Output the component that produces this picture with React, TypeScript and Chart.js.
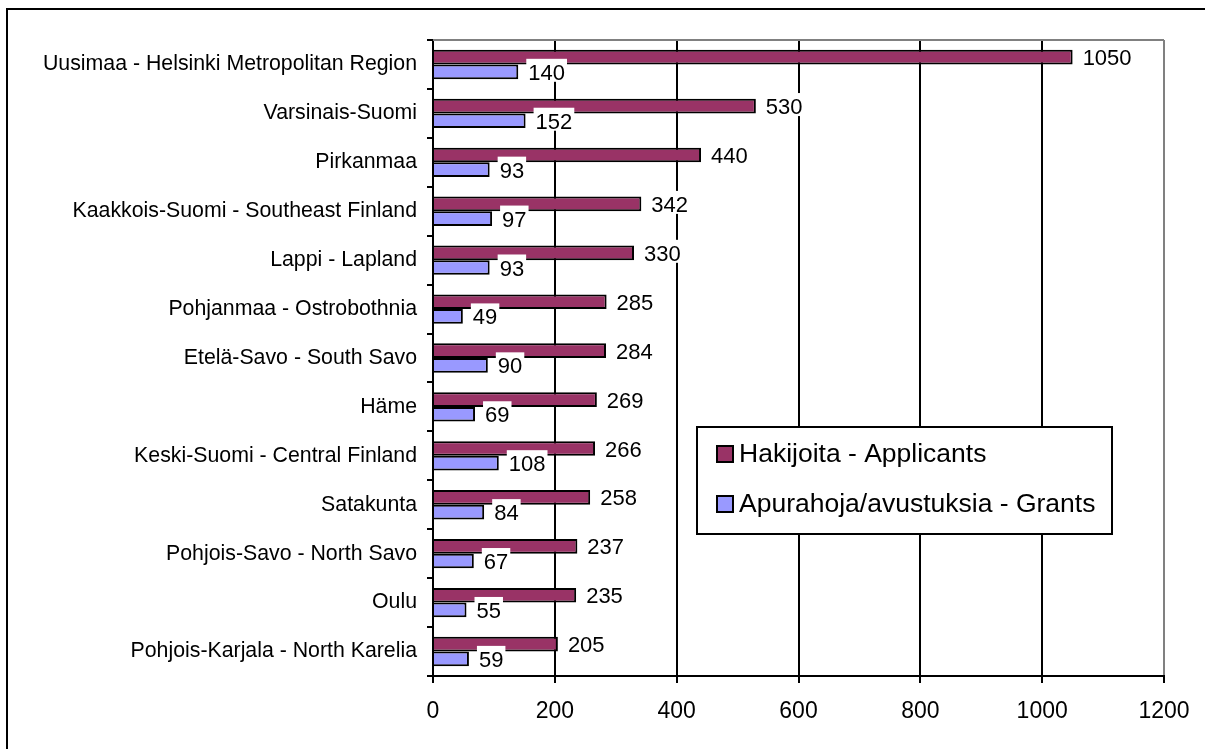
import React, { useEffect, useRef } from 'react';
import { Chart, registerables } from 'chart.js';

Chart.register(...registerables);

const categories = [
  'Uusimaa - Helsinki Metropolitan Region',
  'Varsinais-Suomi',
  'Pirkanmaa',
  'Kaakkois-Suomi - Southeast Finland',
  'Lappi - Lapland',
  'Pohjanmaa - Ostrobothnia',
  'Etelä-Savo - South Savo',
  'Häme',
  'Keski-Suomi - Central Finland',
  'Satakunta',
  'Pohjois-Savo - North Savo',
  'Oulu',
  'Pohjois-Karjala - North Karelia',
];
const applicants = [1050, 530, 440, 342, 330, 285, 284, 269, 266, 258, 237, 235, 205];
const grants = [140, 152, 93, 97, 93, 49, 90, 69, 108, 84, 67, 55, 59];
const seriesNames = ['Hakijoita - Applicants', 'Apurahoja/avustuksia - Grants'];
const seriesColors = ['#993366', '#9999FF'];
const xMin = 0;
const xMax = 1200;
const xStep = 200;

const FONT = "'Liberation Sans', Arial, sans-serif";

const plotFramePlugin = {
  id: 'plotFrame',
  beforeDatasetsDraw(chart: any) {
    const { ctx, chartArea } = chart;
    ctx.save();
    ctx.strokeStyle = '#808080';
    ctx.lineWidth = 2;
    ctx.beginPath();
    ctx.moveTo(chartArea.left, chartArea.top);
    ctx.lineTo(chartArea.right, chartArea.top);
    ctx.stroke();
    ctx.restore();
  },
};

const valueLabelPlugin = {
  id: 'valueLabels',
  afterDatasetsDraw(chart: any) {
    const { ctx } = chart;
    ctx.save();
    ctx.font = `22px ${FONT}`;
    chart.data.datasets.forEach((ds: any, di: number) => {
      const meta = chart.getDatasetMeta(di);
      meta.data.forEach((el: any, i: number) => {
        const text = String(ds.data[i]);
        const w = ctx.measureText(text).width;
        const x = el.x + 8;
        const y = el.y + 1;
        ctx.fillStyle = '#ffffff';
        ctx.fillRect(x, y - 14, w + 4, 23);
        ctx.fillStyle = '#000000';
        ctx.textBaseline = 'middle';
        ctx.textAlign = 'left';
        ctx.fillText(text, x + 2, y + 1);
      });
    });
    ctx.restore();
  },
};

const boxLegendPlugin = {
  id: 'boxLegend',
  afterDraw(chart: any) {
    const { ctx, chartArea } = chart;
    const left = chartArea.left + 264;
    const top = chartArea.top + 387;
    const width = 415;
    const height = 107;
    ctx.save();
    ctx.fillStyle = '#ffffff';
    ctx.fillRect(left, top, width, height);
    ctx.strokeStyle = '#000000';
    ctx.lineWidth = 2;
    ctx.strokeRect(left, top, width, height);
    ctx.font = `26.5px ${FONT}`;
    ctx.textBaseline = 'middle';
    ctx.textAlign = 'left';
    chart.data.datasets.forEach((ds: any, i: number) => {
      const cy = top + 27 + i * 50;
      ctx.fillStyle = ds.backgroundColor;
      ctx.fillRect(left + 20, cy - 8, 16, 16);
      ctx.strokeStyle = '#000000';
      ctx.lineWidth = 2;
      ctx.strokeRect(left + 20, cy - 8, 16, 16);
      ctx.fillStyle = '#000000';
      ctx.fillText(ds.label, left + 42, cy + 1);
    });
    ctx.restore();
  },
};

export default function App() {
  const canvasRef = useRef<HTMLCanvasElement | null>(null);

  useEffect(() => {
    if (!canvasRef.current) return;
    const chart = new Chart(canvasRef.current, {
      type: 'bar',
      data: {
        labels: categories,
        datasets: [
          {
            label: seriesNames[0],
            data: applicants,
            backgroundColor: seriesColors[0],
            borderColor: '#000000',
            borderWidth: 2,
            categoryPercentage: 0.6,
            barPercentage: 1.0,
          },
          {
            label: seriesNames[1],
            data: grants,
            backgroundColor: seriesColors[1],
            borderColor: '#000000',
            borderWidth: 2,
            categoryPercentage: 0.6,
            barPercentage: 1.0,
          },
        ],
      },
      options: {
        indexAxis: 'y',
        responsive: false,
        animation: false,
        devicePixelRatio: 1,
        layout: { padding: { left: 0, top: 30, right: 41, bottom: 0 } },
        plugins: {
          legend: { display: false },
          tooltip: { enabled: false },
        },
        scales: {
          x: {
            type: 'linear',
            min: xMin,
            max: xMax,
            ticks: {
              stepSize: xStep,
              color: '#000000',
              font: { family: FONT, size: 23 },
              padding: 15,
              callback: (v: any) => String(v),
            },
            grid: {
              color: (c: any) => (c.tick && c.tick.value === xMax ? '#808080' : '#000000'),
              lineWidth: 2,
              tickColor: '#000000',
              tickLength: 7,
              drawTicks: true,
            },
            border: { color: '#000000', width: 2 },
            afterFit: (scale: any) => {
              scale.height = 73;
            },
          },
          y: {
            type: 'category',
            ticks: {
              color: '#000000',
              font: { family: FONT, size: 21.3 },
              padding: 10,
              autoSkip: false,
            },
            grid: {
              offset: true,
              drawOnChartArea: false,
              drawTicks: true,
              tickLength: 6,
              color: '#000000',
              tickColor: '#000000',
              lineWidth: 2,
            },
            border: { color: '#000000', width: 2 },
            afterFit: (scale: any) => {
              scale.width = 425;
            },
          },
        },
      },
      plugins: [plotFramePlugin, valueLabelPlugin, boxLegendPlugin],
    } as any);
    return () => chart.destroy();
  }, []);

  return (
    <div
      style={{
        position: 'fixed',
        left: 6,
        top: 8,
        width: 1199,
        height: 741,
        borderTop: '2px solid #000',
        borderLeft: '2px solid #000',
        boxSizing: 'border-box',
        overflow: 'hidden',
        background: '#fff',
      }}
    >
      <canvas
        ref={canvasRef}
        width={1197}
        height={739}
        style={{ position: 'absolute', left: 0, top: 0, width: 1197, height: 739 }}
      />
    </div>
  );
}
